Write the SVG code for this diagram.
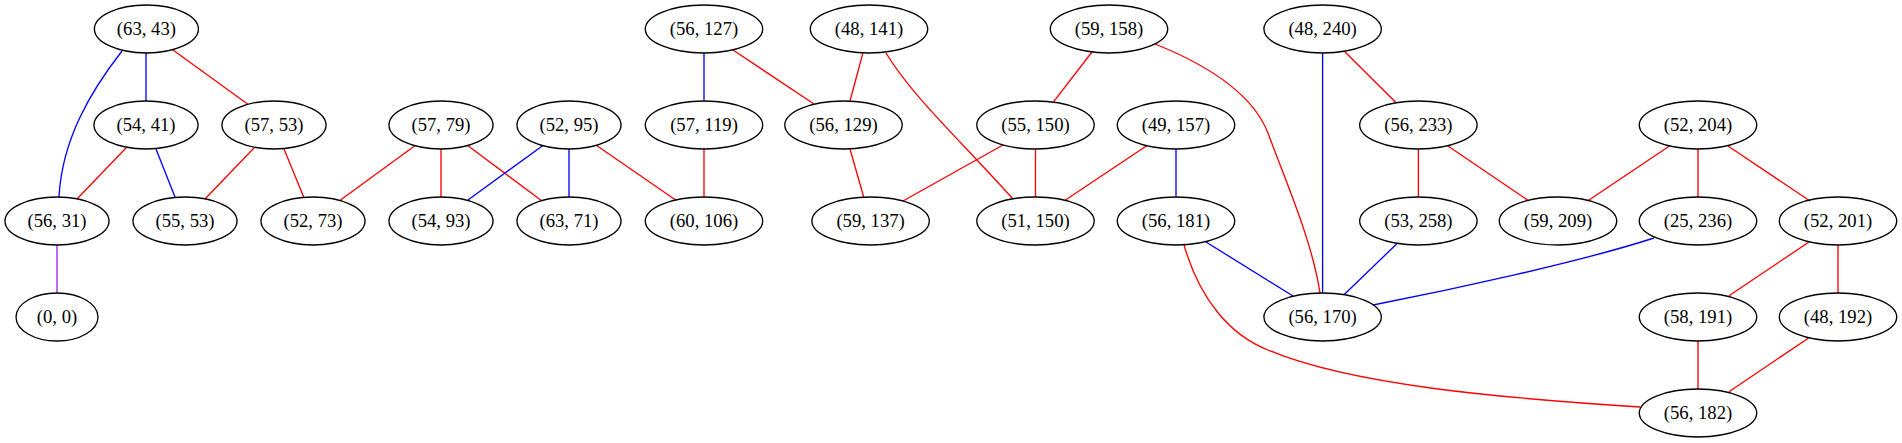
<svg xmlns="http://www.w3.org/2000/svg" width="1902" height="443" viewBox="0 0 1902 443">
<style>
.n ellipse{fill:none;stroke:#000;stroke-width:1.33}
.n text{font-family:"Liberation Serif","Times New Roman",serif;font-size:18.67px;text-anchor:middle;fill:#000}
#edges path{fill:none;stroke-width:1.33}
.r{stroke:#ff0000}.b{stroke:#0000ff}.p{stroke:#a020f0}
</style>
<rect width="1902" height="443" fill="#fff"/>
<g id="edges">
<path class="b" d="M122,51 C90,92 62,140 59,197"/>
<path class="b" d="M146,53 L146,101"/>
<path class="r" d="M173,50 L247.5,104"/>
<path class="r" d="M126,148 L77,199"/>
<path class="b" d="M156,149 L175,197"/>
<path class="r" d="M254,148 L205,199"/>
<path class="r" d="M284,149 L303.7,197"/>
<path class="r" d="M414.5,146 L340.5,200"/>
<path class="r" d="M441,149 L441,197"/>
<path class="r" d="M468,145.7 L542,201"/>
<path class="b" d="M542.6,145.7 L468,200"/>
<path class="b" d="M569,149 L569,197"/>
<path class="r" d="M597,145.7 L675.6,200"/>
<path class="p" d="M57,245 L57,293"/>
<path class="b" d="M704,53 L704,101"/>
<path class="r" d="M733,50 L814,104"/>
<path class="r" d="M863,52.7 L850,101"/>
<path class="r" d="M886,53 C912,96 960,140 1013,199"/>
<path class="r" d="M1092,52 L1053.7,101.7"/>
<path class="r" d="M1155,44 C1220,70 1255,100 1268,133 C1285,180 1312,240 1320,293"/>
<path class="r" d="M1003,145 L903,201"/>
<path class="r" d="M1035.5,149 L1035.5,197"/>
<path class="r" d="M1146.7,145.7 L1065.5,200"/>
<path class="b" d="M1176,149 L1176,197"/>
<path class="r" d="M704,149 L704,197"/>
<path class="r" d="M850,149 L863.7,197"/>
<path class="b" d="M1206,242 L1293,296"/>
<path class="r" d="M1184,245 C1200,300 1230,335 1268,350 C1350,385 1500,398 1640,407"/>
<path class="b" d="M1322.6,53 L1322.6,293"/>
<path class="r" d="M1344.8,51.7 L1396.6,103.3"/>
<path class="r" d="M1418.4,149 L1418.4,197"/>
<path class="r" d="M1448,146 L1529,201"/>
<path class="b" d="M1396.6,244 L1344,294.7"/>
<path class="r" d="M1669.5,146 L1587.5,201"/>
<path class="r" d="M1698,149 L1698,197"/>
<path class="r" d="M1728,146 L1810,201"/>
<path class="b" d="M1654,238 C1580,262 1450,290 1373,305"/>
<path class="r" d="M1809,242 L1729,295.7"/>
<path class="r" d="M1838,245 L1838,293"/>
<path class="r" d="M1698,341 L1698,389"/>
<path class="r" d="M1809,337.7 L1729,391.7"/>
</g>
<g id="n63_43" class="n"><ellipse cx="146.4" cy="29" rx="52" ry="24"/><text x="146.4" y="35">(63, 43)</text></g>
<g id="n54_41" class="n"><ellipse cx="146" cy="125" rx="52" ry="24"/><text x="146" y="131">(54, 41)</text></g>
<g id="n57_53" class="n"><ellipse cx="274" cy="125" rx="52" ry="24"/><text x="274" y="131">(57, 53)</text></g>
<g id="n57_79" class="n"><ellipse cx="441" cy="125" rx="52" ry="24"/><text x="441" y="131">(57, 79)</text></g>
<g id="n52_95" class="n"><ellipse cx="569" cy="125" rx="52" ry="24"/><text x="569" y="131">(52, 95)</text></g>
<g id="n56_31" class="n"><ellipse cx="57" cy="221" rx="52" ry="24"/><text x="57" y="227">(56, 31)</text></g>
<g id="n55_53" class="n"><ellipse cx="185" cy="221" rx="52" ry="24"/><text x="185" y="227">(55, 53)</text></g>
<g id="n52_73" class="n"><ellipse cx="313" cy="221" rx="52" ry="24"/><text x="313" y="227">(52, 73)</text></g>
<g id="n54_93" class="n"><ellipse cx="441" cy="221" rx="52" ry="24"/><text x="441" y="227">(54, 93)</text></g>
<g id="n63_71" class="n"><ellipse cx="569" cy="221" rx="52" ry="24"/><text x="569" y="227">(63, 71)</text></g>
<g id="n0_0" class="n"><ellipse cx="57" cy="317" rx="41" ry="24"/><text x="57" y="323">(0, 0)</text></g>
<g id="n56_127" class="n"><ellipse cx="704" cy="29" rx="58.7" ry="24"/><text x="704" y="35">(56, 127)</text></g>
<g id="n48_141" class="n"><ellipse cx="869" cy="29" rx="58.7" ry="24"/><text x="869" y="35">(48, 141)</text></g>
<g id="n59_158" class="n"><ellipse cx="1109" cy="29" rx="58.7" ry="24"/><text x="1109" y="35">(59, 158)</text></g>
<g id="n57_119" class="n"><ellipse cx="704" cy="125" rx="58.7" ry="24"/><text x="704" y="131">(57, 119)</text></g>
<g id="n56_129" class="n"><ellipse cx="843.5" cy="125" rx="58.7" ry="24"/><text x="843.5" y="131">(56, 129)</text></g>
<g id="n55_150" class="n"><ellipse cx="1035.5" cy="125" rx="58.7" ry="24"/><text x="1035.5" y="131">(55, 150)</text></g>
<g id="n49_157" class="n"><ellipse cx="1176" cy="125" rx="58.7" ry="24"/><text x="1176" y="131">(49, 157)</text></g>
<g id="n60_106" class="n"><ellipse cx="704" cy="221" rx="58.7" ry="24"/><text x="704" y="227">(60, 106)</text></g>
<g id="n59_137" class="n"><ellipse cx="870.6" cy="221" rx="58.7" ry="24"/><text x="870.6" y="227">(59, 137)</text></g>
<g id="n51_150" class="n"><ellipse cx="1035.5" cy="221" rx="58.7" ry="24"/><text x="1035.5" y="227">(51, 150)</text></g>
<g id="n56_181" class="n"><ellipse cx="1176" cy="221" rx="58.7" ry="24"/><text x="1176" y="227">(56, 181)</text></g>
<g id="n48_240" class="n"><ellipse cx="1322.6" cy="29" rx="58.7" ry="24"/><text x="1322.6" y="35">(48, 240)</text></g>
<g id="n56_233" class="n"><ellipse cx="1418.4" cy="125" rx="58.7" ry="24"/><text x="1418.4" y="131">(56, 233)</text></g>
<g id="n52_204" class="n"><ellipse cx="1698" cy="125" rx="58.7" ry="24"/><text x="1698" y="131">(52, 204)</text></g>
<g id="n53_258" class="n"><ellipse cx="1418.4" cy="221" rx="58.7" ry="24"/><text x="1418.4" y="227">(53, 258)</text></g>
<g id="n59_209" class="n"><ellipse cx="1558" cy="221" rx="58.7" ry="24"/><text x="1558" y="227">(59, 209)</text></g>
<g id="n25_236" class="n"><ellipse cx="1698" cy="221" rx="58.7" ry="24"/><text x="1698" y="227">(25, 236)</text></g>
<g id="n52_201" class="n"><ellipse cx="1838" cy="221" rx="58.7" ry="24"/><text x="1838" y="227">(52, 201)</text></g>
<g id="n56_170" class="n"><ellipse cx="1322.6" cy="317" rx="58.7" ry="24"/><text x="1322.6" y="323">(56, 170)</text></g>
<g id="n58_191" class="n"><ellipse cx="1698" cy="317" rx="58.7" ry="24"/><text x="1698" y="323">(58, 191)</text></g>
<g id="n48_192" class="n"><ellipse cx="1838" cy="317" rx="58.7" ry="24"/><text x="1838" y="323">(48, 192)</text></g>
<g id="n56_182" class="n"><ellipse cx="1698" cy="413" rx="58.7" ry="24"/><text x="1698" y="419">(56, 182)</text></g>
</svg>
